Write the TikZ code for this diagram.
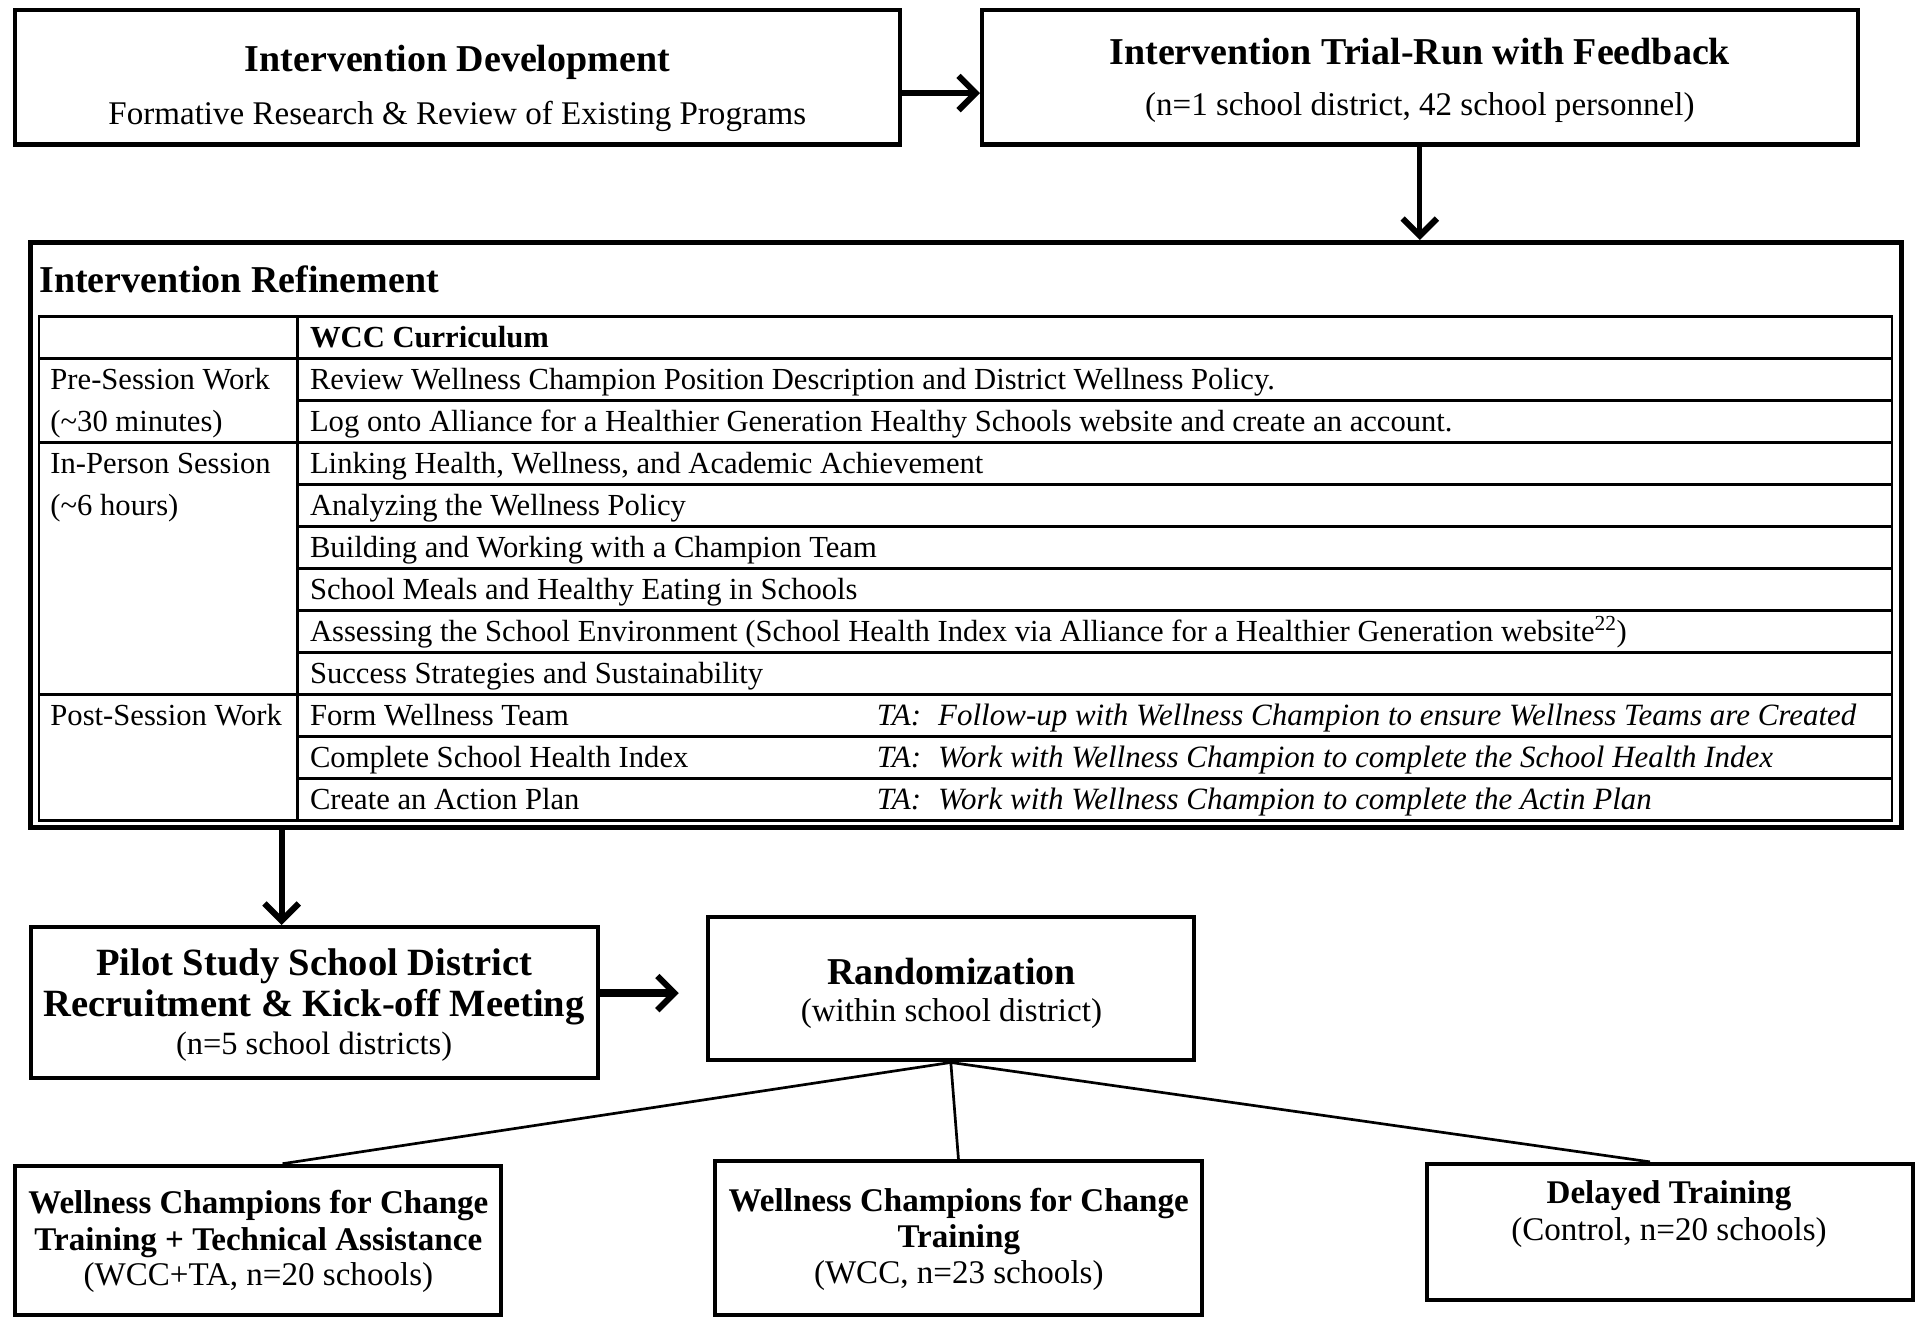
\documentclass[tikz,border=0pt]{standalone}
\usepackage{fontspec}
\setmainfont{Liberation Serif}
\usetikzlibrary{arrows.meta,calc}
\begin{document}
\begin{tikzpicture}[x=1pt,y=-1pt,
  box/.style={draw,line width=3.3pt,inner sep=0pt},
  arr/.style={line width=5pt,-{Straight Barb[length=14pt,width=28pt,line width=5pt]}},
  link/.style={line width=2.2pt},
  tline/.style={line width=2pt},
  ttl/.style={font=\fontsize{31}{36}\selectfont\bfseries, anchor=base, inner sep=0pt},
  sub/.style={font=\fontsize{27}{32}\selectfont, anchor=base, inner sep=0pt},
  btl/.style={font=\fontsize{27}{32}\selectfont\bfseries, anchor=base, inner sep=0pt},
  cell/.style={font=\fontsize{25}{28}\selectfont, anchor=base west, inner sep=0pt},
  hcell/.style={font=\fontsize{25}{28}\selectfont\bfseries, anchor=base west, inner sep=0pt},
  tacell/.style={font=\fontsize{25.3}{28}\selectfont\itshape, anchor=base west, inner sep=0pt}
]
\useasboundingbox (0,0) rectangle (1568,1080);

% boxes
\node[box, minimum width=723pt, minimum height=110pt] (A) at (373.5,63) {};
\node[box, minimum width=715pt, minimum height=110pt] (B) at (1159.5,63) {};
\node[box, line width=4pt, minimum width=1528pt, minimum height=478pt] (C) at (789,437) {};
\node[box, minimum width=463pt, minimum height=123pt] (D) at (256.5,818.5) {};
\node[box, minimum width=397pt, minimum height=117pt] (E) at (776.5,807.5) {};
\node[box, minimum width=396.5pt, minimum height=122pt] (F) at (210.75,1013) {};
\node[box, minimum width=397.5pt, minimum height=125.5pt] (G) at (782.75,1011.25) {};
\node[box, minimum width=397pt, minimum height=111pt] (H) at (1363.5,1006) {};

% box texts
\node[ttl] (At) at (373.5,58.5) {Intervention Development};
\node[sub] (As) at (373.5,101.5) {Formative Research \& Review of Existing Programs};
\node[ttl] (Bt) at (1159.5,52.5) {Intervention Trial-Run with Feedback};
\node[sub] (Bs) at (1159.5,94) {(n=1 school district, 42 school personnel)};
\node[ttl, anchor=base west] (Ct) at (32,238.5) {Intervention Refinement};
\node[font=\fontsize{31.5}{36}\selectfont\bfseries, anchor=base, inner sep=0pt] (Dt1) at (256.5,797) {Pilot Study School District};
\node[font=\fontsize{31.5}{36}\selectfont\bfseries, anchor=base, inner sep=0pt] (Dt2) at (256.5,830) {Recruitment \& Kick-off Meeting};
\node[font=\fontsize{26.5}{30}\selectfont, anchor=base, inner sep=0pt] (Ds) at (256.5,861) {(n=5 school districts)};
\node[ttl] (Et) at (777,804) {Randomization};
\node[sub] (Es) at (777,834) {(within school district)};
\node[btl] (Ft1) at (211,991) {Wellness Champions for Change};
\node[btl] (Ft2) at (211,1021) {Training + Technical Assistance};
\node[sub] (Fs) at (211,1049.5) {(WCC+TA, n=20 schools)};
\node[btl] (Gt1) at (783,989.5) {Wellness Champions for Change};
\node[btl] (Gt2) at (783,1019) {Training};
\node[sub] (Gs) at (783,1048) {(WCC, n=23 schools)};
\node[btl] (Ht) at (1363,982.5) {Delayed Training};
\node[sub] (Hs) at (1363,1012.7) {(Control, n=20 schools)};

% table
\draw[tline] (32,258.5) rectangle (1545,670.1);
\draw[tline] (243,258.5) -- (243,670.1);
\foreach \i in {1,...,11} {
  \draw[tline] (243,{258.5+34.3*\i}) -- (1545,{258.5+34.3*\i});
}
\foreach \i in {1,3,9} {
  \draw[tline] (32,{258.5+34.3*\i}) -- (243,{258.5+34.3*\i});
}
% left column
\node[cell] (L1) at (41,{258.5+34.3*1+25.5}) {Pre-Session Work};
\node[cell] (L2) at (41,{258.5+34.3*2+25.5}) {(\textasciitilde30 minutes)};
\node[cell] (L3) at (41,{258.5+34.3*3+25.5}) {In-Person Session};
\node[cell] (L4) at (41,{258.5+34.3*4+25.5}) {(\textasciitilde6 hours)};
\node[cell] (L5) at (41,{258.5+34.3*9+25.5}) {Post-Session Work};
% right column
\node[hcell] (R0) at (253,{258.5+34.3*0+25.5}) {WCC Curriculum};
\node[cell] (R1) at (253,{258.5+34.3*1+25.5}) {Review Wellness Champion Position Description and District Wellness Policy.};
\node[cell] (R2) at (253,{258.5+34.3*2+25.5}) {Log onto Alliance for a Healthier Generation Healthy Schools website and create an account.};
\node[cell] (R3) at (253,{258.5+34.3*3+25.5}) {Linking Health, Wellness, and Academic Achievement};
\node[cell] (R4) at (253,{258.5+34.3*4+25.5}) {Analyzing the Wellness Policy};
\node[cell] (R5) at (253,{258.5+34.3*5+25.5}) {Building and Working with a Champion Team};
\node[cell] (R6) at (253,{258.5+34.3*6+25.5}) {School Meals and Healthy Eating in Schools};
\node[cell] (R7) at (253,{258.5+34.3*7+25.5}) {Assessing the School Environment (School Health Index via Alliance for a Healthier Generation website\textsuperscript{22})};
\node[cell] (R8) at (253,{258.5+34.3*8+25.5}) {Success Strategies and Sustainability};
\node[cell] (R9) at (253,{258.5+34.3*9+25.5}) {Form Wellness Team};
\node[cell] (R10) at (253,{258.5+34.3*10+25.5}) {Complete School Health Index};
\node[cell] (R11) at (253,{258.5+34.3*11+25.5}) {Create an Action Plan};
\node[tacell] (T9) at (716,{258.5+34.3*9+25.5}) {\makebox[50pt][l]{TA:}Follow-up with Wellness Champion to ensure Wellness Teams are Created};
\node[tacell] (T10) at (716,{258.5+34.3*10+25.5}) {\makebox[50pt][l]{TA:}Work with Wellness Champion to complete the School Health Index};
\node[tacell] (T11) at (716,{258.5+34.3*11+25.5}) {\makebox[50pt][l]{TA:}Work with Wellness Champion to complete the Actin Plan};

% connectors
\draw[arr] ([yshift=-13pt]A.east) -- ([yshift=-13pt]B.west);
\draw[arr, line width=4pt] (B.south) -- (B.south |- C.north);
\coordinate (cd) at ([xshift=-26.5pt]D.north);
\draw[arr] (cd |- C.south) -- (cd);
\draw[arr, line width=6.5pt] (D.east |- 0,811) -- ($(E.west |- 0,811)+(-22,0)$);
\draw[link] (E.south) -- ($(F.north west)!0.55!(F.north east)$);
\draw[link] (E.south) -- (G.north);
\draw[link] (E.south) -- ($(H.north west)!0.46!(H.north east)$);
\end{tikzpicture}
\end{document}
